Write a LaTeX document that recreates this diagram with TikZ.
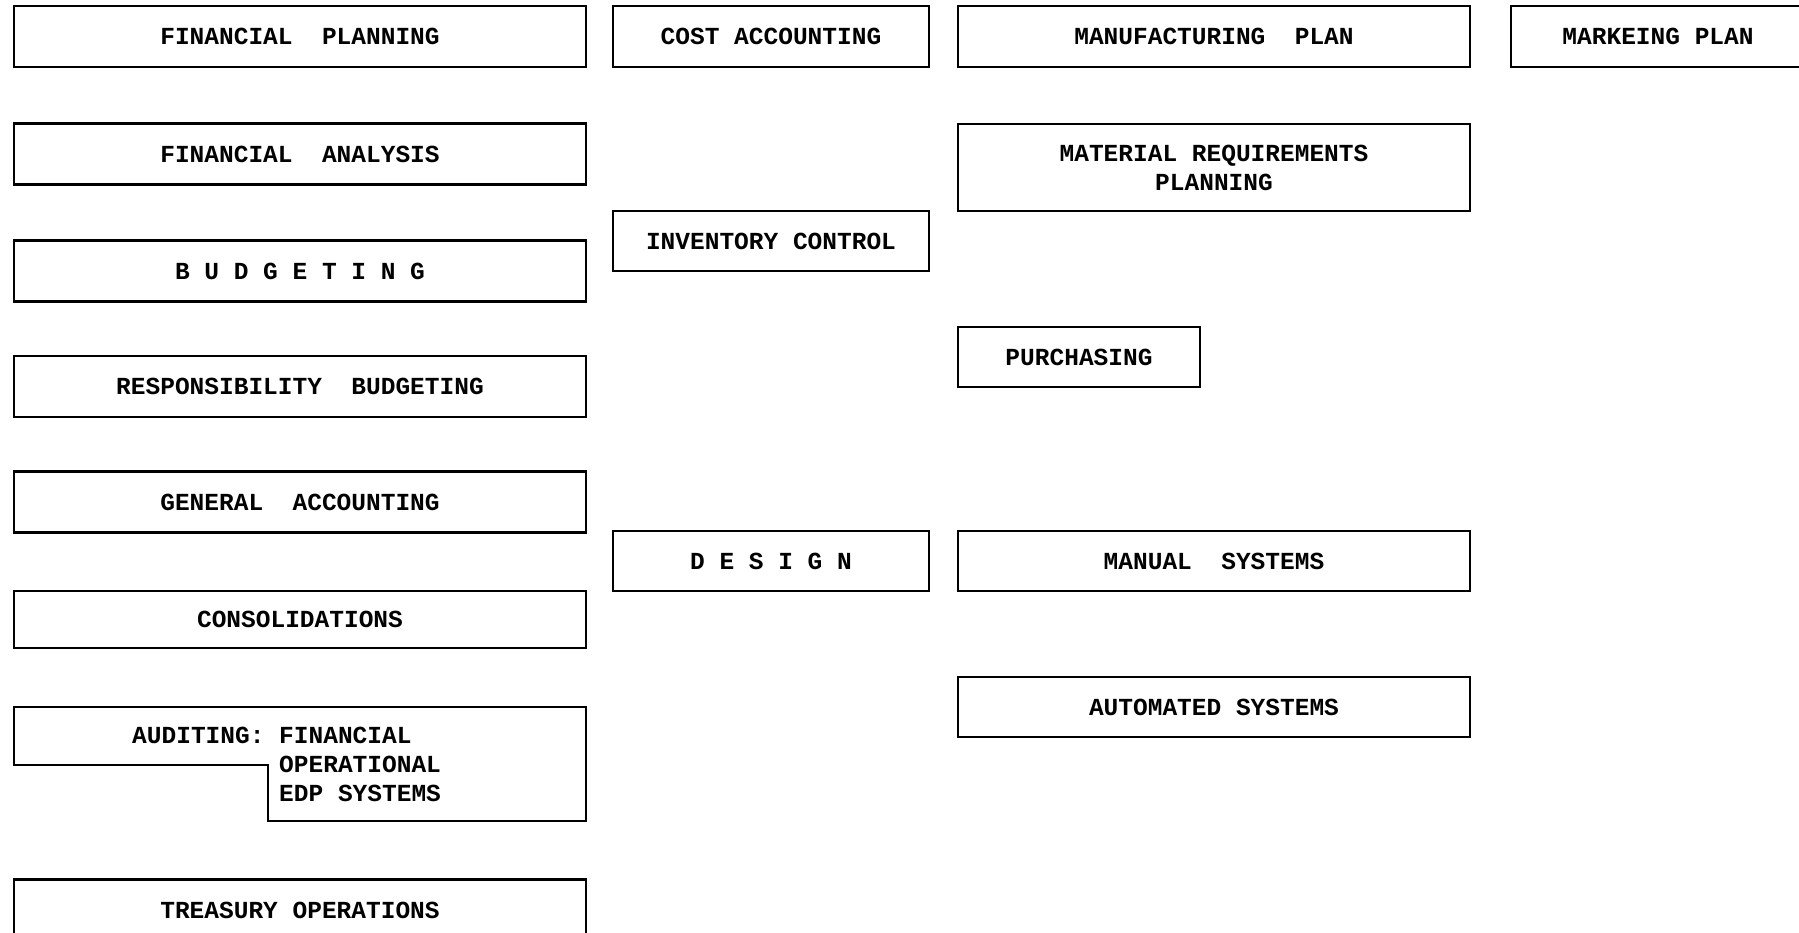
\documentclass[tikz,border=0pt]{standalone}
\usepackage{fontspec}
\setmonofont{Liberation Mono}
\usepackage{tikz}
\usetikzlibrary{positioning}
\tikzset{blk/.style={draw,line width=2.2pt,rectangle,minimum height=61pt,inner
sep=0pt,font=\fontsize{24.5}{29}\selectfont\ttfamily\bfseries,align=center},wide/.style={blk,minimum
width=572pt},mid/.style={blk,minimum width=316pt},big/.style={blk,minimum width=512pt}}

\begin{document}
\begin{tikzpicture}[x=1pt,y=-1pt,txt/.style={inner sep=0pt,font=\fontsize{24.5}{29}\selectfont\ttfamily\bfseries,align=left}]
		\useasboundingbox (0,0) rectangle (1799,932);
		\clip (0,0) rectangle (1799,932);

		\node[wide] (fplan) at (300,36.5) {FINANCIAL\ \ PLANNING};
		\node[wide] (fanal) at (300,154) {FINANCIAL\ \ ANALYSIS};
		\node[wide] (budg) at (300,271) {B U D G E T I N G};
		\node[wide] (resp) at (300,386.5) {RESPONSIBILITY\ \ BUDGETING};
		\node[wide] (genacc) at (300,502) {GENERAL\ \ ACCOUNTING};
		\node[wide,minimum height=57pt] (consol) at (300,619.5) {CONSOLIDATIONS};
		\draw[line width=2.2pt] (14,707) -- (586,707) -- (586,821) -- (268,821) -- (268,765) -- (14,765) -- cycle;
		\node[txt,anchor=north west] (audit) at (132,727) {AUDITING: FINANCIAL\\\phantom{AUDITING: }OPERATIONAL\\\phantom{AUDITING: }EDP SYSTEMS};
		\node[wide] (treas) at (300,910) {TREASURY OPERATIONS};

		\node[mid] (cost) at (771,36.5) {COST ACCOUNTING};
		\node[mid,minimum height=60pt] (inv) at (771,241) {INVENTORY CONTROL};
		\node[mid,minimum height=60pt] (design) at (771,561) {D E S I G N};

		\node[big] (manuf) at (1214,36.5) {MANUFACTURING\ \ PLAN};
		\node[big,minimum height=87pt] (mrp) at (1214,167.5) {MATERIAL REQUIREMENTS\\PLANNING};
		\node[blk,minimum width=242pt,minimum height=60pt] (purch) at (1079,357) {PURCHASING};
		\node[big,minimum height=60pt] (manual) at (1214,561) {MANUAL\ \ SYSTEMS};
		\node[big,minimum height=60pt] (auto) at (1214,707) {AUTOMATED SYSTEMS};

		\node[blk,minimum width=294pt] (markt) at (1658,36.5) {MARKEING PLAN};
	\end{tikzpicture}
\end{document}
